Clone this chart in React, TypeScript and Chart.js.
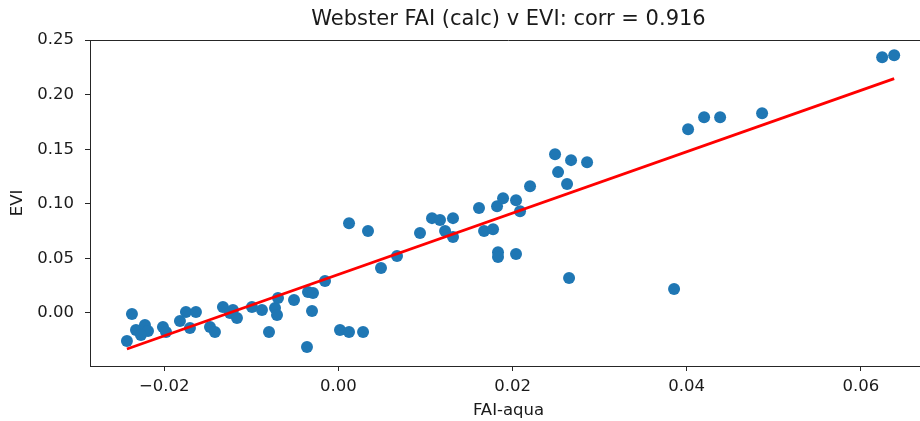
import React, { useEffect, useRef } from "react";
import { Chart, registerables } from "chart.js";

Chart.register(...registerables);

const TITLE = "Webster FAI (calc) v EVI: corr = 0.916";
const X_LABEL = "FAI-aqua";
const Y_LABEL = "EVI";

const faiAqua: number[] = [
  -0.02371, -0.02429, -0.02325, -0.02222, -0.02187, -0.02268, -0.02015, -0.0198,
  -0.0182, -0.01751, -0.01636, -0.01705, -0.01475, -0.01418, -0.01326, -0.01211,
  -0.01245, -0.01165, -0.00993, -0.00878, -0.00797, -0.00728, -0.00694, -0.00705,
  -0.0051, -0.00349, -0.00292, -0.00303, -0.00361, -0.00154, 0.00018, 0.00122,
  0.00283, 0.00122, 0.0034, 0.00489, 0.00673, 0.00937, 0.01075, 0.01167,
  0.01225, 0.01316, 0.01316, 0.01615, 0.01673, 0.01776, 0.01822, 0.01891,
  0.0204, 0.02086, 0.01833, 0.01833, 0.0204, 0.02201, 0.02488, 0.02523,
  0.02626, 0.02672, 0.02856, 0.02649, 0.03855, 0.04016, 0.042, 0.04384,
  0.04866, 0.06245, 0.06383,
];

const evi: number[] = [
  -0.0012, -0.0259, -0.0159, -0.0113, -0.0168, -0.0204, -0.0131, -0.0177,
  -0.0076, 0.0006, 0.0006, -0.014, -0.0131, -0.0177, 0.0052, 0.0025,
  -0.0003, -0.0049, 0.0052, 0.0025, -0.0177, 0.0043, 0.0135, -0.0021,
  0.0116, 0.019, 0.0181, 0.0016, -0.0314, 0.0291, -0.0159, -0.0177,
  -0.0177, 0.0822, 0.0749, 0.041, 0.052, 0.0731, 0.0868, 0.085,
  0.0749, 0.0868, 0.0694, 0.096, 0.0749, 0.0767, 0.0978, 0.1051,
  0.1033, 0.0932, 0.0556, 0.0511, 0.0538, 0.1161, 0.1455, 0.129,
  0.118, 0.14, 0.1381, 0.0318, 0.0217, 0.1684, 0.1794, 0.1794,
  0.183, 0.2344, 0.2362,
];

// regression line end points
const fitX: number[] = [-0.02429, 0.06383];
const fitY: number[] = [-0.0333, 0.2148];

const xTicks: number[] = [-0.02, 0.0, 0.02, 0.04, 0.06];
const yTicks: number[] = [0.0, 0.05, 0.1, 0.15, 0.2, 0.25];

const X_MIN = -0.02853;
const X_MAX = 0.0676;
const Y_MIN = -0.04885;
const Y_MAX = 0.2502;

const FONT = "'DejaVu Sans', sans-serif";
const TEXT = "#1a1a1a";
const AXIS = "#262626";

const fmt = (v: number) => (v < 0 ? "\u2212" : "") + Math.abs(v).toFixed(2);

const framePlugin = {
  id: "frameAndTitle",
  afterDraw(chart: any) {
    const { ctx, chartArea } = chart;
    ctx.save();
    ctx.strokeStyle = AXIS;
    ctx.lineWidth = 1;
    ctx.beginPath();
    ctx.moveTo(chartArea.left, chartArea.top + 0.5);
    ctx.lineTo(chartArea.right, chartArea.top + 0.5);
    ctx.moveTo(chartArea.right + 0.5, chartArea.top);
    ctx.lineTo(chartArea.right + 0.5, chartArea.bottom);
    ctx.stroke();
    ctx.fillStyle = TEXT;
    ctx.font = `21px ${FONT}`;
    ctx.textAlign = "center";
    ctx.textBaseline = "middle";
    ctx.fillText(TITLE, (chartArea.left + chartArea.right) / 2, 20);
    ctx.restore();
  },
};

export default function App() {
  const ref = useRef<HTMLCanvasElement | null>(null);

  useEffect(() => {
    const canvas = ref.current;
    if (!canvas) return;
    canvas.width = 950;
    canvas.height = 421;
    const points = faiAqua.map((x, i) => ({ x, y: evi[i] }));
    const fit = fitX.map((x, i) => ({ x, y: fitY[i] }));
    const chart = new Chart(canvas, {
      type: "scatter",
      data: {
        datasets: [
          {
            label: "fit",
            data: fit,
            showLine: true,
            borderColor: "#ff0000",
            borderWidth: 2.8,
            pointRadius: 0,
            order: 0,
          } as any,
          {
            label: "points",
            data: points,
            backgroundColor: "#1f77b4",
            borderWidth: 0,
            pointRadius: 6,
            pointHoverRadius: 6,
            order: 1,
          } as any,
        ],
      },
      options: {
        responsive: false,
        animation: false,
        devicePixelRatio: 1,
        layout: { padding: { top: 40, right: 23, left: 0, bottom: 0 } },
        plugins: {
          legend: { display: false },
          tooltip: { enabled: false },
          title: { display: false },
        },
        scales: {
          x: {
            type: "linear",
            min: X_MIN,
            max: X_MAX,
            afterBuildTicks: (s: any) => {
              s.ticks = xTicks.map((v) => ({ value: v }));
            },
            afterFit: (s: any) => {
              s.height = 55;
            },
            ticks: {
              callback: (v: any) => fmt(Number(v)),
              font: { family: FONT, size: 16.5 },
              color: TEXT,
              padding: 6,
              maxRotation: 0,
              autoSkip: false,
            },
            grid: {
              drawOnChartArea: false,
              drawTicks: true,
              tickLength: 5,
              color: AXIS,
              tickWidth: 1,
            },
            border: { display: true, color: AXIS, width: 1 },
            title: {
              display: true,
              text: X_LABEL,
              color: TEXT,
              font: { family: FONT, size: 16.5 },
              padding: { top: 0, bottom: 0 },
            },
          },
          y: {
            type: "linear",
            min: Y_MIN,
            max: Y_MAX,
            afterBuildTicks: (s: any) => {
              s.ticks = yTicks.map((v) => ({ value: v }));
            },
            afterFit: (s: any) => {
              s.width = 90;
            },
            ticks: {
              callback: (v: any) => fmt(Number(v)),
              font: { family: FONT, size: 16.5 },
              color: TEXT,
              padding: 11,
              autoSkip: false,
            },
            grid: {
              drawOnChartArea: false,
              drawTicks: true,
              tickLength: 5,
              color: AXIS,
              tickWidth: 1,
            },
            border: { display: true, color: AXIS, width: 1 },
            title: {
              display: true,
              text: Y_LABEL,
              color: TEXT,
              font: { family: FONT, size: 16.5 },
              padding: { top: 8, bottom: 0 },
            },
          },
        },
      },
      plugins: [framePlugin],
    });
    return () => chart.destroy();
  }, []);

  return (
    <div
      style={{
        position: "fixed",
        left: 0,
        top: 0,
        width: 920,
        height: 421,
        overflow: "hidden",
        background: "#fff",
      }}
    >
      <canvas ref={ref} style={{ display: "block", width: 950, height: 421 }} />
    </div>
  );
}
